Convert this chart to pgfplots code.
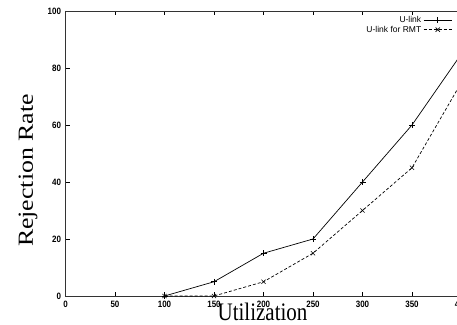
\documentclass[border=0pt]{standalone}
\usepackage{pgfplots}
\pgfplotsset{compat=1.18}
\usepackage{fontspec}
\setmainfont{Liberation Sans}
\newfontfamily\timesf{Liberation Serif}
\begin{document}
\begin{tikzpicture}
\begin{axis}[name=ax, scale only axis, width=495pt, height=285pt,
  xmin=0, xmax=500, ymin=0, ymax=100,
  xtick={0,50,...,500}, ytick={0,20,...,100},
  tick align=inside, major tick length=4pt, tick pos=both,
  axis line style={line width=0.8pt, black!80},
  tick style={line width=0.7pt, black},
  /pgf/number format/assume math mode=true,
  tick label style={font=\bfseries\fontsize{8}{9}\selectfont, yscale=1.15},
  xticklabel style={yshift=-1pt},
  yticklabel style={xshift=-1pt},
  legend cell align=right, legend plot pos=right,
  legend style={draw=none, fill=none, at={(axis cs:392,99.3)}, anchor=north east,
    font=\fontsize{8.5}{9}\selectfont, row sep=-2pt, inner sep=1pt},
  legend image code/.code={\draw[mark repeat=2, mark phase=2, #1] plot coordinates {(0cm,0cm) (0.5cm,0cm) (1cm,0cm)};},
]
\addplot[black, line width=0.7pt, mark=+, mark size=3pt, mark options={solid}] coordinates {
  (100,0) (150,5) (200,15) (250,20) (300,40) (350,60) (400,85)};
\addlegendentry{U-link}
\addplot[black, line width=0.7pt, dash pattern=on 3pt off 2pt, mark=x, mark size=3pt, mark options={solid}] coordinates {
  (100,0) (150,0) (200,5) (250,15) (300,30) (350,45) (400,75)};
\addlegendentry{U-link for RMT}
\end{axis}
\node[font=\timesf\fontsize{21}{24}\selectfont, yscale=1.2, anchor=base, inner sep=0pt] at ([shift={(197pt,-24pt)}]ax.south west) {Utilization};
\node[font=\timesf\fontsize{21.5}{24}\selectfont, rotate=90, xscale=1.2, anchor=base, inner sep=0pt] at ([shift={(-32.5pt,125.4pt)}]ax.south west) {Rejection Rate};
\pgfresetboundingbox
\path[use as bounding box] ([shift={(-65.5pt,-28pt)}]ax.south west) rectangle ([shift={(391.5pt,11pt)}]ax.north west);
\end{tikzpicture}
\end{document}
